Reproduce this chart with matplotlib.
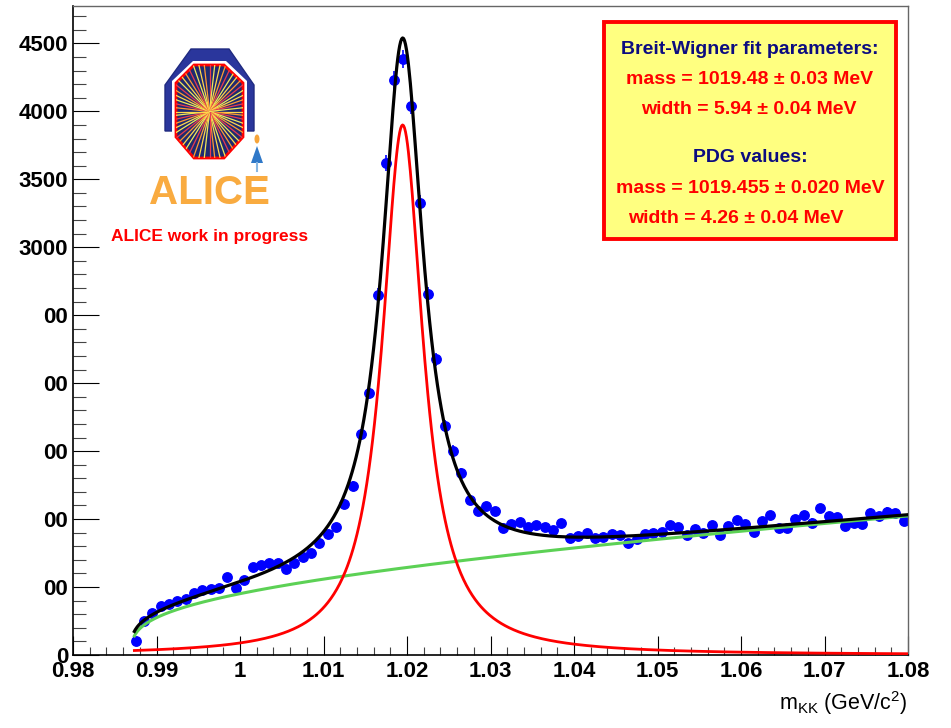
import numpy as np
import matplotlib
matplotlib.use('Agg')
import matplotlib.pyplot as plt
from matplotlib.patches import Polygon, Rectangle, Ellipse
from matplotlib.ticker import MultipleLocator, FixedLocator, FixedFormatter

plt.rcParams['font.family'] = ['Liberation Sans', 'DejaVu Sans']
plt.rcParams['mathtext.default'] = 'regular'

##
##  invariant mass spectrum of K+K- pairs (1 MeV bins)
##
bin_lo = 0.987
bin_w = 0.001
counts = [105, 252, 307, 363, 375, 397, 412, 454, 478, 483,
          490, 571, 495, 552, 645, 662, 674, 679, 630, 679,
          723, 748, 826, 888, 944, 1111, 1243,
          1624, 1930, 2649, 3622, 4230, 4385, 4041, 3328, 2656,
          2175, 1685, 1503, 1337, 1140, 1056, 1094,
          1059, 937, 962, 978, 944, 956, 944, 920, 969, 863,
          878, 900, 858, 870, 888, 883, 822, 851, 888, 900,
          907, 956, 939, 883, 925, 895, 956, 883, 951, 993,
          964, 907, 986, 1030, 932, 932, 998, 1030, 974, 1079,
          1023, 1015, 949, 974, 966, 1042, 1023, 1054, 1042, 988]
mkk = bin_lo + bin_w * (np.arange(len(counts)) + 0.5)

# fit result: Breit-Wigner peak + threshold background
bw_mass = 1.01948     # GeV
bw_width = 0.00594    # GeV
bw_peak = 3900.
bg_thr = 0.987
bg_a, bg_pow, bg_b = 1517., 0.3, 3000.
fit_lo, fit_hi = 0.98735, 1.08

xtick_vals = [0.98, 0.99, 1.00, 1.01, 1.02, 1.03, 1.04, 1.05, 1.06, 1.07, 1.08]
xtick_labels = ['0.98', '0.99', '1', '1.01', '1.02', '1.03', '1.04', '1.05', '1.06', '1.07', '1.08']
ytick_vals = [0, 500, 1000, 1500, 2000, 2500, 3000, 3500, 4000, 4500]
ytick_labels = ['0', '00', '00', '00', '00', '00', '3000', '3500', '4000', '4500']

box_lines = [('Breit-Wigner fit parameters:', '#0c0c80'),
             ('mass = 1019.48 \u00b1 0.03 MeV', '#ff0000'),
             ('width = 5.94 \u00b1 0.04 MeV', '#ff0000'),
             ('PDG values:', '#0c0c80'),
             ('mass = 1019.455 \u00b1 0.020 MeV', '#ff0000'),
             ('width = 4.26 \u00b1 0.04 MeV', '#ff0000')]


def breit_wigner(x):
    g2 = (bw_width / 2.) ** 2
    return bw_peak * g2 / ((x - bw_mass) ** 2 + g2)


def background(x):
    q = x - bg_thr
    return bg_a * q ** bg_pow + bg_b * q


W, H = 951, 728
fig = plt.figure(figsize=(W / 100, H / 100), dpi=100)
ax = fig.add_axes([73 / W, 73 / H, 835 / W, 649 / H])

ax.errorbar(mkk, counts, yerr=np.sqrt(counts), fmt='o', ms=6.8, color='#0000ff',
            mec='#0000ff', elinewidth=1.2, capsize=0, zorder=2)

xf = np.linspace(fit_lo, fit_hi, 800)
ax.plot(xf, background(xf), color='#5cd155', lw=2.2, zorder=3)
ax.plot(xf, breit_wigner(xf), color='#ff0000', lw=2.0, zorder=4)
ax.plot(xf, breit_wigner(xf) + background(xf), color='black', lw=2.3, zorder=5)

ax.set_xlim(0.98, 1.08)
ax.set_ylim(0, 4775)
ax.xaxis.set_major_locator(FixedLocator(xtick_vals))
ax.xaxis.set_major_formatter(FixedFormatter(xtick_labels))
ax.xaxis.set_minor_locator(MultipleLocator(0.002))
ax.yaxis.set_major_locator(FixedLocator(ytick_vals))
ax.yaxis.set_major_formatter(FixedFormatter(ytick_labels))
ax.yaxis.set_minor_locator(MultipleLocator(100))

ax.tick_params(which='both', direction='in', top=False, right=False, labelsize=16)
ax.tick_params(axis='y', which='major', length=18.5, width=0.8, pad=3.5)
ax.tick_params(axis='y', which='minor', length=9, width=0.8, color='#444444')
ax.tick_params(axis='x', which='major', length=13.7, width=0.8, pad=4)
ax.tick_params(axis='x', which='minor', length=6, width=0.8, color='#444444')
for lbl in ax.get_xticklabels() + ax.get_yticklabels():
    lbl.set_fontweight('bold')

for s in ['left', 'bottom']:
    ax.spines[s].set_linewidth(1.2)
for s in ['top', 'right']:
    ax.spines[s].set_linewidth(1.0)
    ax.spines[s].set_color('#666666')

ax.set_xlabel(r'm$_{KK}$ (GeV/c$^{2}$)', fontsize=15.5, loc='right')
ax.xaxis.set_label_coords(1.0, -0.052)

##
##  logo and annotation pad, drawn in pixel coordinates
##
ov = fig.add_axes([0, 0, 1, 1], zorder=10)
ov.set_xlim(0, W)
ov.set_ylim(H, 0)
ov.axis('off')
ov.patch.set_alpha(0)

magnet = [(165, 131), (165, 85), (191, 49), (229, 49), (254, 85), (254, 131)]
ov.add_patch(Polygon(magnet, closed=True, fc='#2a369c', ec='#1f2a80', lw=1))
gap = [(193, 61), (226, 61), (247, 81), (247, 139), (226, 162), (193, 162), (172, 139), (172, 81)]
ov.add_patch(Polygon(gap, closed=True, fc='white', ec='none'))
octa = [(194, 65), (224, 65), (243, 83), (243, 137), (224, 158), (194, 158), (176, 137), (176, 83)]
core = Polygon(octa, closed=True, fc='#1e2a70', ec='none')
ov.add_patch(core)
cx, cy = 209.5, 111.5
ray_cols = ['#ffd84a', '#ff9a33', '#e83a50', '#f0e85a']
for i, a in enumerate(np.linspace(0, 2 * np.pi, 56, endpoint=False)):
    ln, = ov.plot([cx, cx + 60 * np.cos(a)], [cy, cy + 60 * np.sin(a)],
                  color=ray_cols[i % 4], lw=0.9)
    ln.set_clip_path(core)
ov.add_patch(Polygon(octa, closed=True, fc='none', ec='#ff0000', lw=2.0))

# little figure beside the logo
ov.add_patch(Polygon([(251, 163), (263, 163), (257, 146)], closed=True, fc='#2f78c8', ec='none'))
ov.add_patch(Ellipse((257, 139), 5, 9, fc='#f6a53a', ec='none'))
ov.plot([257, 257], [163, 171], color='#86b6e2', lw=1.5)

ov.text(209, 204, 'ALICE', fontweight='bold', fontsize=29,
        color='#f9ab40', ha='center', va='baseline')
ov.text(209.5, 241, 'ALICE work in progress', fontweight='bold',
        fontsize=12.5, color='#ff0000', ha='center', va='baseline')

ov.add_patch(Rectangle((604, 22), 292, 217, fc='#ffff80', ec='#ff0000', lw=2.8))
baselines = [54, 84, 114, 162, 193, 223]
centers = [750, 750, 749, 750, 750, 736]
for (txt, col), yb, xc in zip(box_lines, baselines, centers):
    ov.text(xc, yb, txt, fontweight='bold', fontsize=14,
            color=col, ha='center', va='baseline')

fig.savefig('out.png', dpi=100)
